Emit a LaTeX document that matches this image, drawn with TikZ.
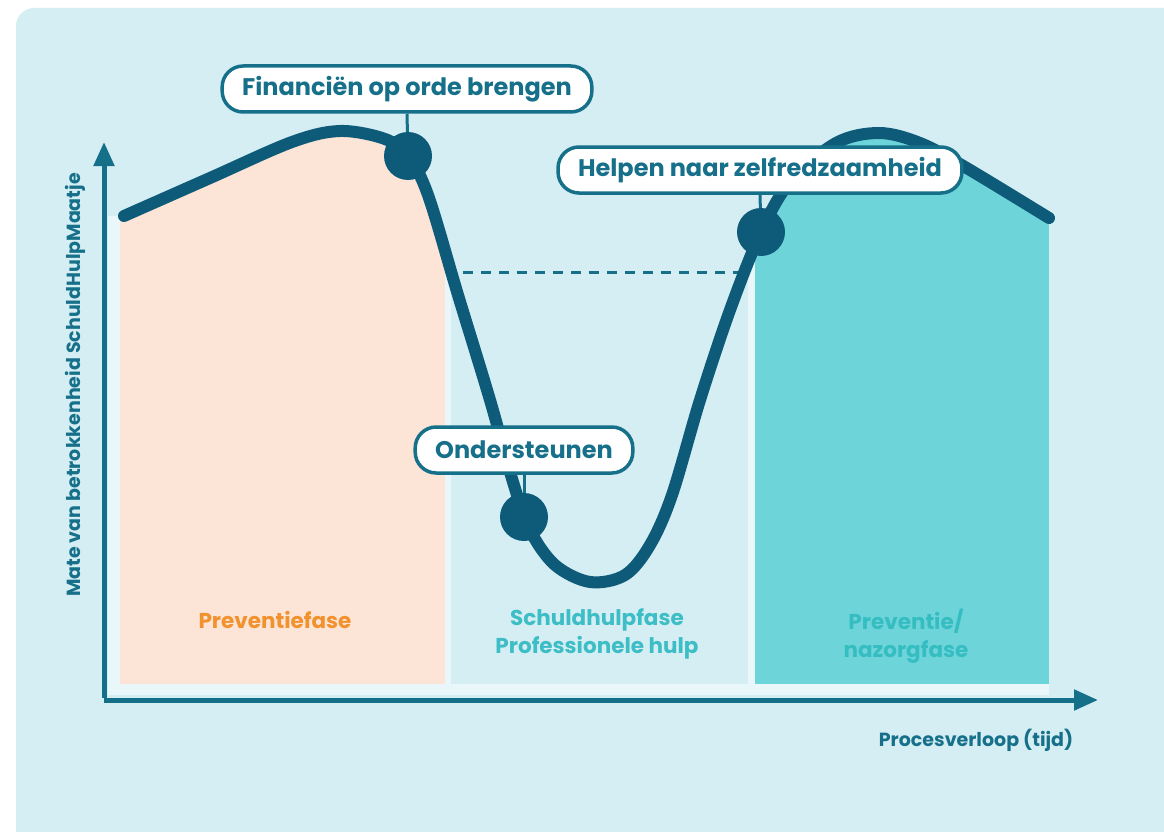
\documentclass[tikz,border=0pt]{standalone}
\usepackage{fontspec}
\setmainfont{Poppins}
\usetikzlibrary{arrows.meta}

\definecolor{panelblue}{HTML}{D4EEF3}
\definecolor{paleframe}{HTML}{E9F7FA}
\definecolor{prevpink}{HTML}{FCE4D6}
\definecolor{nazorgteal}{HTML}{6DD5DA}
\definecolor{curveblue}{HTML}{0E5B79}
\definecolor{axisteal}{HTML}{146F89}
\definecolor{labelteal}{HTML}{17708A}
\definecolor{prevorange}{HTML}{F2922F}
\definecolor{hulpteal}{HTML}{3DBEC6}
\definecolor{nazorgtext}{HTML}{35BDC2}

\tikzset{
  milestone/.style={draw=labelteal,line width=3.5pt,fill=white,rounded corners=21pt,
    minimum height=46pt,inner xsep=20pt,text=labelteal,
    font=\bfseries\fontsize{24}{28}\selectfont},
  curvedot/.style={circle,fill=curveblue,minimum size=48pt,inner sep=0pt},
  phasetext/.style={align=center,font=\bfseries\fontsize{21.5}{28}\selectfont},
  axisline/.style={axisteal,line width=5pt,-{Triangle[length=24pt,width=20pt]}},
  axistext/.style={text=labelteal,font=\bfseries\fontsize{19}{22}\selectfont},
  connector/.style={labelteal,line width=3pt},
}

% the phase curve, in pixel coordinates
\newcommand\phasecurve{plot[smooth,tension=0.55] coordinates {(124,216) (210,178) (292,142)
  (340,131) (385,139) (408,156) (428,195) (458,295) (490,400) (513,482) (530,530)
  (555,565) (590,582) (625,575) (650,545) (672,495) (700,400) (730,310) (761,232)
  (790,182) (836,143) (879,133) (920,143) (965,167) (1049,218)}}

\begin{document}
\begin{tikzpicture}[x=1pt,y=-1pt]%
\useasboundingbox (0,0) rectangle (1164,832);%
\clip (0,0) rectangle (1164,832);%
\fill[white] (0,0) rectangle (1164,832);%
\fill[panelblue,rounded corners=18pt] (16,8) rectangle (1200,870);%
% phase areas below the curve
\begin{scope}
\clip \phasecurve -- (1049,695) -- (108,695) -- (108,216) -- cycle;%
\fill[paleframe] (100,100) rectangle (1060,695);%
\fill[prevpink] (120,100) rectangle (445,684);%
\fill[panelblue] (451,100) rectangle (748,684);%
\fill[nazorgteal] (755,100) rectangle (1049,684);%
\end{scope}
\coordinate (dashstart) at (463,272);%
\coordinate (dashend) at (748,272);%
\draw[labelteal,line width=3pt,dash pattern=on 10pt off 8pt] (dashstart) -- (dashend);%
\draw[curveblue,line width=12pt,line cap=round] \phasecurve;%
% milestones
\node[curvedot] (financien) at (408,156) {};%
\node[curvedot] (ondersteunen) at (524,517) {};%
\node[curvedot] (helpen) at (761,232) {};%
\node[milestone] (financienlabel) at (407,89) {Financiën op orde brengen};%
\node[milestone] (ondersteunenlabel) at (524,450) {Ondersteunen};%
\node[milestone] (helpenlabel) at (760,170) {Helpen naar zelfredzaamheid};%
\draw[connector] (financienlabel.south) -- (financien);%
\draw[connector] (ondersteunenlabel.south) -- (ondersteunen);%
\draw[connector] (helpenlabel.south) -- (helpen);%
% phase names
\node[phasetext,text=prevorange] (preventie) at (275,620) {Preventiefase};%
\node[phasetext,text=hulpteal] (schuldhulp) at (597,634) {Schuldhulpfase\\Professionele hulp};%
\node[phasetext,text=nazorgtext] (nazorg) at (906,636) {Preventie/\\nazorgfase};%
% axes
\coordinate (origin) at (104,700);%
\coordinate (xend) at (1098,700);%
\coordinate (yend) at (104,142);%
\draw[axisline] (origin) -- (xend);%
\draw[axisline] ([yshift=2.5pt]origin) -- (yend);%
\node[axistext] (xlabel) at (976,740) {Procesverloop (tijd)};%
\node[axistext,rotate=90] (ylabel) at (75,385) {Mate van betrokkenheid SchuldHulpMaatje};%
\end{tikzpicture}
\end{document}
